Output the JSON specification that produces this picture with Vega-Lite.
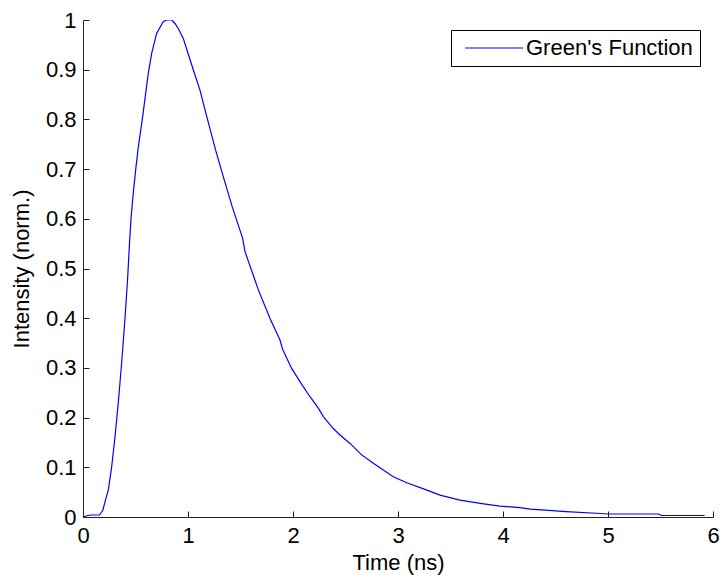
{
  "$schema": "https://vega.github.io/schema/vega-lite/v6.json",
  "autosize": {"type": "none"},
  "padding": {"left": 83, "top": 20, "right": 7, "bottom": 58},
  "width": 630,
  "height": 497,
  "background": "white",
  "config": {
    "view": {"stroke": null},
    "font": "Liberation Sans",
    "axis": {"grid": false, "domainColor": "#222", "tickColor": "#222", "labelColor": "#000", "titleColor": "#000", "labelFont": "Liberation Sans", "titleFont": "Liberation Sans", "titleFontWeight": "normal", "labelFontSize": 22, "titleFontSize": 22, "tickSize": -6, "domainWidth": 1, "labelFlush": false}
  },
  "data": {"values": [
    {"t": 0, "v": 0, "s": "Green's Function"},
    {"t": 0.03, "v": 0.002, "s": "Green's Function"},
    {"t": 0.07, "v": 0.004, "s": "Green's Function"},
    {"t": 0.156, "v": 0.004, "s": "Green's Function"},
    {"t": 0.188, "v": 0.013, "s": "Green's Function"},
    {"t": 0.219, "v": 0.038, "s": "Green's Function"},
    {"t": 0.241, "v": 0.054, "s": "Green's Function"},
    {"t": 0.273, "v": 0.101, "s": "Green's Function"},
    {"t": 0.305, "v": 0.162, "s": "Green's Function"},
    {"t": 0.336, "v": 0.23, "s": "Green's Function"},
    {"t": 0.368, "v": 0.31, "s": "Green's Function"},
    {"t": 0.4, "v": 0.4, "s": "Green's Function"},
    {"t": 0.425, "v": 0.48, "s": "Green's Function"},
    {"t": 0.44, "v": 0.54, "s": "Green's Function"},
    {"t": 0.457, "v": 0.6, "s": "Green's Function"},
    {"t": 0.48, "v": 0.655, "s": "Green's Function"},
    {"t": 0.505, "v": 0.705, "s": "Green's Function"},
    {"t": 0.527, "v": 0.745, "s": "Green's Function"},
    {"t": 0.568, "v": 0.805, "s": "Green's Function"},
    {"t": 0.622, "v": 0.893, "s": "Green's Function"},
    {"t": 0.654, "v": 0.933, "s": "Green's Function"},
    {"t": 0.701, "v": 0.973, "s": "Green's Function"},
    {"t": 0.765, "v": 0.997, "s": "Green's Function"},
    {"t": 0.8, "v": 1.0, "s": "Green's Function"},
    {"t": 0.845, "v": 1.0, "s": "Green's Function"},
    {"t": 0.876, "v": 0.993, "s": "Green's Function"},
    {"t": 0.91, "v": 0.982, "s": "Green's Function"},
    {"t": 0.955, "v": 0.963, "s": "Green's Function"},
    {"t": 1.0, "v": 0.933, "s": "Green's Function"},
    {"t": 1.05, "v": 0.9, "s": "Green's Function"},
    {"t": 1.114, "v": 0.859, "s": "Green's Function"},
    {"t": 1.162, "v": 0.819, "s": "Green's Function"},
    {"t": 1.263, "v": 0.738, "s": "Green's Function"},
    {"t": 1.336, "v": 0.685, "s": "Green's Function"},
    {"t": 1.42, "v": 0.625, "s": "Green's Function"},
    {"t": 1.52, "v": 0.561, "s": "Green's Function"},
    {"t": 1.543, "v": 0.534, "s": "Green's Function"},
    {"t": 1.67, "v": 0.457, "s": "Green's Function"},
    {"t": 1.78, "v": 0.4, "s": "Green's Function"},
    {"t": 1.876, "v": 0.356, "s": "Green's Function"},
    {"t": 1.9, "v": 0.338, "s": "Green's Function"},
    {"t": 1.987, "v": 0.299, "s": "Green's Function"},
    {"t": 2.08, "v": 0.268, "s": "Green's Function"},
    {"t": 2.162, "v": 0.242, "s": "Green's Function"},
    {"t": 2.241, "v": 0.219, "s": "Green's Function"},
    {"t": 2.289, "v": 0.202, "s": "Green's Function"},
    {"t": 2.384, "v": 0.178, "s": "Green's Function"},
    {"t": 2.448, "v": 0.165, "s": "Green's Function"},
    {"t": 2.543, "v": 0.148, "s": "Green's Function"},
    {"t": 2.654, "v": 0.125, "s": "Green's Function"},
    {"t": 2.765, "v": 0.108, "s": "Green's Function"},
    {"t": 2.955, "v": 0.081, "s": "Green's Function"},
    {"t": 3.083, "v": 0.069, "s": "Green's Function"},
    {"t": 3.25, "v": 0.056, "s": "Green's Function"},
    {"t": 3.4, "v": 0.044, "s": "Green's Function"},
    {"t": 3.59, "v": 0.034, "s": "Green's Function"},
    {"t": 3.8, "v": 0.027, "s": "Green's Function"},
    {"t": 3.97, "v": 0.022, "s": "Green's Function"},
    {"t": 4.16, "v": 0.019, "s": "Green's Function"},
    {"t": 4.26, "v": 0.016, "s": "Green's Function"},
    {"t": 4.4, "v": 0.014, "s": "Green's Function"},
    {"t": 4.6, "v": 0.011, "s": "Green's Function"},
    {"t": 4.93, "v": 0.007, "s": "Green's Function"},
    {"t": 5.0, "v": 0.006, "s": "Green's Function"},
    {"t": 5.48, "v": 0.006, "s": "Green's Function"},
    {"t": 5.51, "v": 0.003, "s": "Green's Function"},
    {"t": 5.92, "v": 0.003, "s": "Green's Function"}
  ]},
  "mark": {"type": "line", "strokeWidth": 1.2, "clip": true},
  "encoding": {
    "x": {"field": "t", "type": "quantitative", "title": "Time (ns)", "scale": {"domain": [0, 6], "nice": false, "zero": false},
      "axis": {"values": [0, 1, 2, 3, 4, 5, 6], "format": "d", "labelPadding": 14, "titlePadding": 6}},
    "y": {"field": "v", "type": "quantitative", "title": "Intensity (norm.)", "scale": {"domain": [0, 1], "nice": false},
      "axis": {"values": [0, 0.1, 0.2, 0.3, 0.4, 0.5, 0.6, 0.7, 0.8, 0.9, 1], "format": "~g", "labelPadding": 13, "titlePadding": 12}},
    "color": {"field": "s", "type": "nominal", "title": null, "scale": {"range": ["#0000FF"]},
      "legend": {"orient": "none", "legendX": 368, "legendY": 10, "symbolType": "M-4,0H4", "symbolSize": 210, "symbolOffset": 25, "symbolStrokeWidth": 1.2, "labelFontSize": 22, "labelFont": "Liberation Sans", "labelColor": "#000", "strokeColor": "#000", "fillColor": "#fff", "padding": 7, "labelOffset": 21, "labelLimit": 400}}
  }
}
